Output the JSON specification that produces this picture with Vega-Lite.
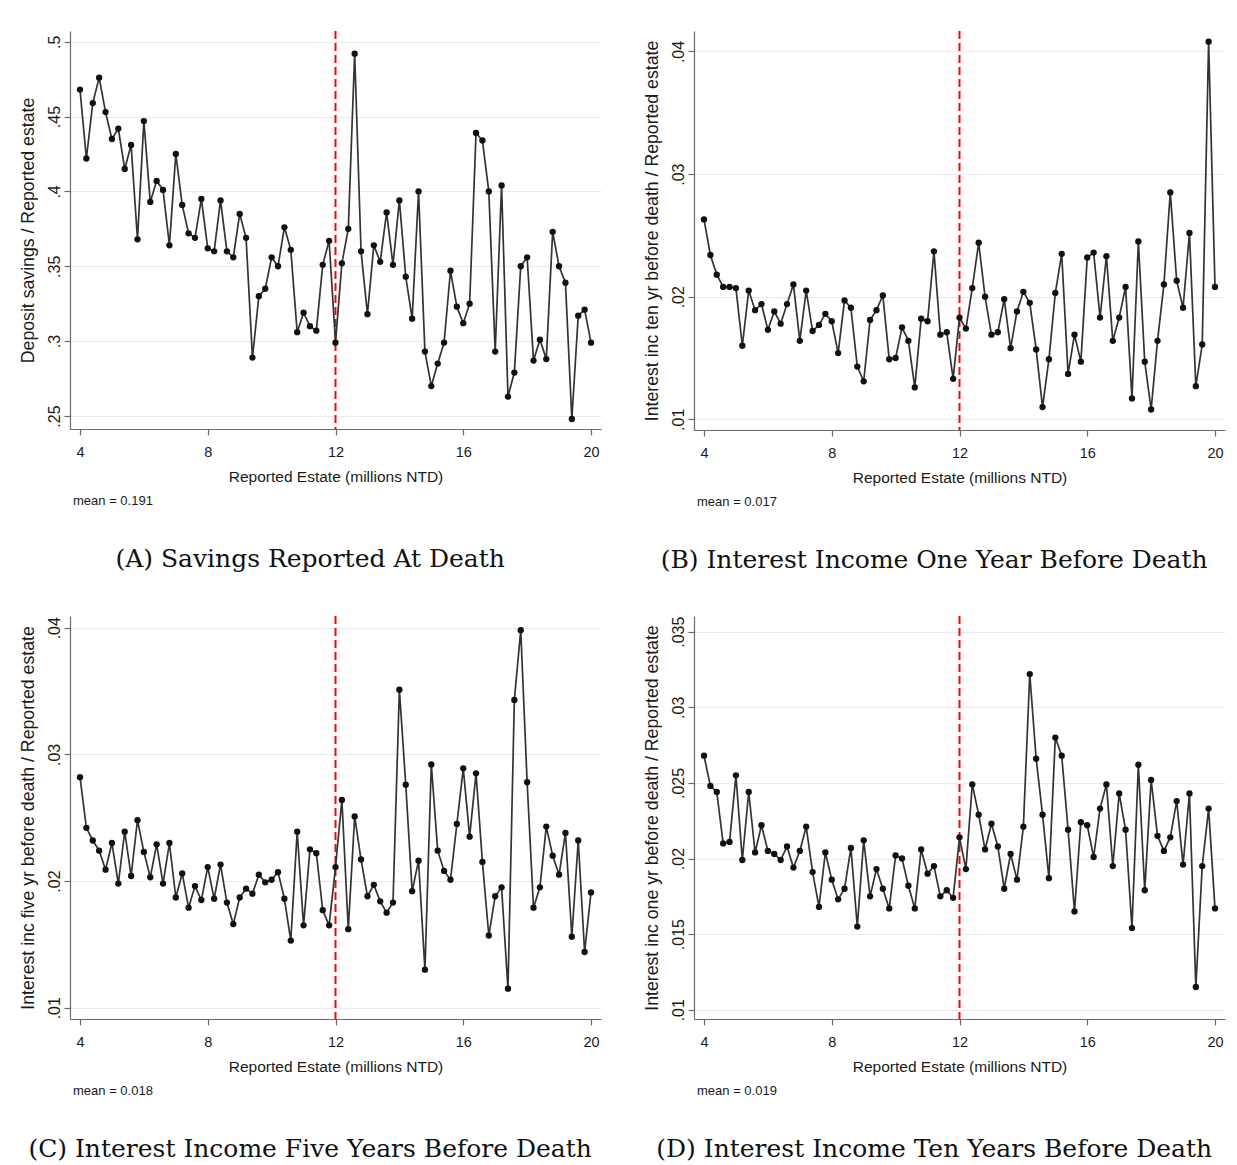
{
  "$schema": "https://vega.github.io/schema/vega-lite/v6.json",
  "background": "white",
  "autosize": {"type": "pad"},
  "padding": {"left": 19, "top": 30, "right": 4, "bottom": 0},
  "config": {
    "view": {"stroke": null},
    "axis": {
      "domainColor": "#6b6b6b", "domainWidth": 1.2,
      "tickColor": "#6b6b6b", "tickWidth": 1.2, "tickSize": 6,
      "labelColor": "#1a1a1a", "titleColor": "#1a1a1a", "titleFontWeight": "normal",
      "gridColor": "#e4ecef", "gridWidth": 1
    },
    "axisX": {
      "grid": false, "labelFont": "Liberation Sans", "labelFontSize": 14.5,
      "labelPadding": 10.3, "titleFont": "Liberation Sans", "titleFontSize": 15.5, "titlePadding": 10.2
    },
    "axisY": {
      "grid": true, "labelFont": "Liberation Sans", "labelFontSize": 16, "labelPadding": 2,
      "titleFont": "Liberation Sans", "titleFontSize": 17.7, "titlePadding": 8.7
    }
  },
  "datasets": {
    "savings": [
      {"estate":4,"ratio":0.468},{"estate":4.2,"ratio":0.422},{"estate":4.4,"ratio":0.459},{"estate":4.6,"ratio":0.476},{"estate":4.8,"ratio":0.453},
      {"estate":5,"ratio":0.435},{"estate":5.2,"ratio":0.442},{"estate":5.4,"ratio":0.415},{"estate":5.6,"ratio":0.431},{"estate":5.8,"ratio":0.368},
      {"estate":6,"ratio":0.447},{"estate":6.2,"ratio":0.393},{"estate":6.4,"ratio":0.407},{"estate":6.6,"ratio":0.401},{"estate":6.8,"ratio":0.364},
      {"estate":7,"ratio":0.425},{"estate":7.2,"ratio":0.391},{"estate":7.4,"ratio":0.372},{"estate":7.6,"ratio":0.369},{"estate":7.8,"ratio":0.395},
      {"estate":8,"ratio":0.362},{"estate":8.2,"ratio":0.360},{"estate":8.4,"ratio":0.394},{"estate":8.6,"ratio":0.360},{"estate":8.8,"ratio":0.356},
      {"estate":9,"ratio":0.385},{"estate":9.2,"ratio":0.369},{"estate":9.4,"ratio":0.289},{"estate":9.6,"ratio":0.330},{"estate":9.8,"ratio":0.335},
      {"estate":10,"ratio":0.356},{"estate":10.2,"ratio":0.350},{"estate":10.4,"ratio":0.376},{"estate":10.6,"ratio":0.361},{"estate":10.8,"ratio":0.306},
      {"estate":11,"ratio":0.319},{"estate":11.2,"ratio":0.310},{"estate":11.4,"ratio":0.307},{"estate":11.6,"ratio":0.351},{"estate":11.8,"ratio":0.367},
      {"estate":12,"ratio":0.299},{"estate":12.2,"ratio":0.352},{"estate":12.4,"ratio":0.375},{"estate":12.6,"ratio":0.492},{"estate":12.8,"ratio":0.360},
      {"estate":13,"ratio":0.318},{"estate":13.2,"ratio":0.364},{"estate":13.4,"ratio":0.353},{"estate":13.6,"ratio":0.386},{"estate":13.8,"ratio":0.351},
      {"estate":14,"ratio":0.394},{"estate":14.2,"ratio":0.343},{"estate":14.4,"ratio":0.315},{"estate":14.6,"ratio":0.400},{"estate":14.8,"ratio":0.293},
      {"estate":15,"ratio":0.270},{"estate":15.2,"ratio":0.285},{"estate":15.4,"ratio":0.299},{"estate":15.6,"ratio":0.347},{"estate":15.8,"ratio":0.323},
      {"estate":16,"ratio":0.312},{"estate":16.2,"ratio":0.325},{"estate":16.4,"ratio":0.439},{"estate":16.6,"ratio":0.434},{"estate":16.8,"ratio":0.400},
      {"estate":17,"ratio":0.293},{"estate":17.2,"ratio":0.404},{"estate":17.4,"ratio":0.263},{"estate":17.6,"ratio":0.279},{"estate":17.8,"ratio":0.350},
      {"estate":18,"ratio":0.356},{"estate":18.2,"ratio":0.287},{"estate":18.4,"ratio":0.301},{"estate":18.6,"ratio":0.288},{"estate":18.8,"ratio":0.373},
      {"estate":19,"ratio":0.350},{"estate":19.2,"ratio":0.339},{"estate":19.4,"ratio":0.248},{"estate":19.6,"ratio":0.317},{"estate":19.8,"ratio":0.321},
      {"estate":20,"ratio":0.299}
    ],
    "interest_one_year": [
      {"estate":4,"ratio":0.0263},{"estate":4.2,"ratio":0.0234},{"estate":4.4,"ratio":0.0218},{"estate":4.6,"ratio":0.0208},{"estate":4.8,"ratio":0.0208},
      {"estate":5,"ratio":0.0207},{"estate":5.2,"ratio":0.0160},{"estate":5.4,"ratio":0.0205},{"estate":5.6,"ratio":0.0189},{"estate":5.8,"ratio":0.0194},
      {"estate":6,"ratio":0.0173},{"estate":6.2,"ratio":0.0188},{"estate":6.4,"ratio":0.0178},{"estate":6.6,"ratio":0.0194},{"estate":6.8,"ratio":0.0210},
      {"estate":7,"ratio":0.0164},{"estate":7.2,"ratio":0.0205},{"estate":7.4,"ratio":0.0172},{"estate":7.6,"ratio":0.0177},{"estate":7.8,"ratio":0.0186},
      {"estate":8,"ratio":0.0180},{"estate":8.2,"ratio":0.0154},{"estate":8.4,"ratio":0.0197},{"estate":8.6,"ratio":0.0191},{"estate":8.8,"ratio":0.0143},
      {"estate":9,"ratio":0.0131},{"estate":9.2,"ratio":0.0181},{"estate":9.4,"ratio":0.0189},{"estate":9.6,"ratio":0.0201},{"estate":9.8,"ratio":0.0149},
      {"estate":10,"ratio":0.0150},{"estate":10.2,"ratio":0.0175},{"estate":10.4,"ratio":0.0164},{"estate":10.6,"ratio":0.0126},{"estate":10.8,"ratio":0.0182},
      {"estate":11,"ratio":0.0180},{"estate":11.2,"ratio":0.0237},{"estate":11.4,"ratio":0.0169},{"estate":11.6,"ratio":0.0171},{"estate":11.8,"ratio":0.0133},
      {"estate":12,"ratio":0.0183},{"estate":12.2,"ratio":0.0174},{"estate":12.4,"ratio":0.0207},{"estate":12.6,"ratio":0.0244},{"estate":12.8,"ratio":0.0200},
      {"estate":13,"ratio":0.0169},{"estate":13.2,"ratio":0.0171},{"estate":13.4,"ratio":0.0198},{"estate":13.6,"ratio":0.0158},{"estate":13.8,"ratio":0.0188},
      {"estate":14,"ratio":0.0204},{"estate":14.2,"ratio":0.0195},{"estate":14.4,"ratio":0.0157},{"estate":14.6,"ratio":0.0110},{"estate":14.8,"ratio":0.0149},
      {"estate":15,"ratio":0.0203},{"estate":15.2,"ratio":0.0235},{"estate":15.4,"ratio":0.0137},{"estate":15.6,"ratio":0.0169},{"estate":15.8,"ratio":0.0147},
      {"estate":16,"ratio":0.0232},{"estate":16.2,"ratio":0.0236},{"estate":16.4,"ratio":0.0183},{"estate":16.6,"ratio":0.0233},{"estate":16.8,"ratio":0.0164},
      {"estate":17,"ratio":0.0183},{"estate":17.2,"ratio":0.0208},{"estate":17.4,"ratio":0.0117},{"estate":17.6,"ratio":0.0245},{"estate":17.8,"ratio":0.0147},
      {"estate":18,"ratio":0.0108},{"estate":18.2,"ratio":0.0164},{"estate":18.4,"ratio":0.0210},{"estate":18.6,"ratio":0.0285},{"estate":18.8,"ratio":0.0213},
      {"estate":19,"ratio":0.0191},{"estate":19.2,"ratio":0.0252},{"estate":19.4,"ratio":0.0127},{"estate":19.6,"ratio":0.0161},{"estate":19.8,"ratio":0.0408},
      {"estate":20,"ratio":0.0208}
    ],
    "interest_five_years": [
      {"estate":4,"ratio":0.0282},{"estate":4.2,"ratio":0.0242},{"estate":4.4,"ratio":0.0232},{"estate":4.6,"ratio":0.0224},{"estate":4.8,"ratio":0.0209},
      {"estate":5,"ratio":0.0230},{"estate":5.2,"ratio":0.0198},{"estate":5.4,"ratio":0.0239},{"estate":5.6,"ratio":0.0204},{"estate":5.8,"ratio":0.0248},
      {"estate":6,"ratio":0.0223},{"estate":6.2,"ratio":0.0203},{"estate":6.4,"ratio":0.0229},{"estate":6.6,"ratio":0.0198},{"estate":6.8,"ratio":0.0230},
      {"estate":7,"ratio":0.0187},{"estate":7.2,"ratio":0.0206},{"estate":7.4,"ratio":0.0179},{"estate":7.6,"ratio":0.0196},{"estate":7.8,"ratio":0.0185},
      {"estate":8,"ratio":0.0211},{"estate":8.2,"ratio":0.0186},{"estate":8.4,"ratio":0.0213},{"estate":8.6,"ratio":0.0183},{"estate":8.8,"ratio":0.0166},
      {"estate":9,"ratio":0.0187},{"estate":9.2,"ratio":0.0194},{"estate":9.4,"ratio":0.0190},{"estate":9.6,"ratio":0.0205},{"estate":9.8,"ratio":0.0199},
      {"estate":10,"ratio":0.0201},{"estate":10.2,"ratio":0.0207},{"estate":10.4,"ratio":0.0186},{"estate":10.6,"ratio":0.0153},{"estate":10.8,"ratio":0.0239},
      {"estate":11,"ratio":0.0165},{"estate":11.2,"ratio":0.0225},{"estate":11.4,"ratio":0.0222},{"estate":11.6,"ratio":0.0177},{"estate":11.8,"ratio":0.0165},
      {"estate":12,"ratio":0.0211},{"estate":12.2,"ratio":0.0264},{"estate":12.4,"ratio":0.0162},{"estate":12.6,"ratio":0.0251},{"estate":12.8,"ratio":0.0217},
      {"estate":13,"ratio":0.0188},{"estate":13.2,"ratio":0.0197},{"estate":13.4,"ratio":0.0184},{"estate":13.6,"ratio":0.0175},{"estate":13.8,"ratio":0.0183},
      {"estate":14,"ratio":0.0351},{"estate":14.2,"ratio":0.0276},{"estate":14.4,"ratio":0.0192},{"estate":14.6,"ratio":0.0216},{"estate":14.8,"ratio":0.0130},
      {"estate":15,"ratio":0.0292},{"estate":15.2,"ratio":0.0224},{"estate":15.4,"ratio":0.0208},{"estate":15.6,"ratio":0.0201},{"estate":15.8,"ratio":0.0245},
      {"estate":16,"ratio":0.0289},{"estate":16.2,"ratio":0.0235},{"estate":16.4,"ratio":0.0285},{"estate":16.6,"ratio":0.0215},{"estate":16.8,"ratio":0.0157},
      {"estate":17,"ratio":0.0188},{"estate":17.2,"ratio":0.0195},{"estate":17.4,"ratio":0.0115},{"estate":17.6,"ratio":0.0343},{"estate":17.8,"ratio":0.0398},
      {"estate":18,"ratio":0.0278},{"estate":18.2,"ratio":0.0179},{"estate":18.4,"ratio":0.0195},{"estate":18.6,"ratio":0.0243},{"estate":18.8,"ratio":0.0220},
      {"estate":19,"ratio":0.0205},{"estate":19.2,"ratio":0.0238},{"estate":19.4,"ratio":0.0156},{"estate":19.6,"ratio":0.0232},{"estate":19.8,"ratio":0.0144},
      {"estate":20,"ratio":0.0191}
    ],
    "interest_ten_years": [
      {"estate":4,"ratio":0.0268},{"estate":4.2,"ratio":0.0248},{"estate":4.4,"ratio":0.0244},{"estate":4.6,"ratio":0.0210},{"estate":4.8,"ratio":0.0211},
      {"estate":5,"ratio":0.0255},{"estate":5.2,"ratio":0.0199},{"estate":5.4,"ratio":0.0244},{"estate":5.6,"ratio":0.0204},{"estate":5.8,"ratio":0.0222},
      {"estate":6,"ratio":0.0205},{"estate":6.2,"ratio":0.0203},{"estate":6.4,"ratio":0.0199},{"estate":6.6,"ratio":0.0208},{"estate":6.8,"ratio":0.0194},
      {"estate":7,"ratio":0.0205},{"estate":7.2,"ratio":0.0221},{"estate":7.4,"ratio":0.0191},{"estate":7.6,"ratio":0.0168},{"estate":7.8,"ratio":0.0204},
      {"estate":8,"ratio":0.0186},{"estate":8.2,"ratio":0.0173},{"estate":8.4,"ratio":0.0180},{"estate":8.6,"ratio":0.0207},{"estate":8.8,"ratio":0.0155},
      {"estate":9,"ratio":0.0212},{"estate":9.2,"ratio":0.0175},{"estate":9.4,"ratio":0.0193},{"estate":9.6,"ratio":0.0180},{"estate":9.8,"ratio":0.0167},
      {"estate":10,"ratio":0.0202},{"estate":10.2,"ratio":0.0200},{"estate":10.4,"ratio":0.0182},{"estate":10.6,"ratio":0.0167},{"estate":10.8,"ratio":0.0206},
      {"estate":11,"ratio":0.0190},{"estate":11.2,"ratio":0.0195},{"estate":11.4,"ratio":0.0175},{"estate":11.6,"ratio":0.0179},{"estate":11.8,"ratio":0.0174},
      {"estate":12,"ratio":0.0214},{"estate":12.2,"ratio":0.0193},{"estate":12.4,"ratio":0.0249},{"estate":12.6,"ratio":0.0229},{"estate":12.8,"ratio":0.0206},
      {"estate":13,"ratio":0.0223},{"estate":13.2,"ratio":0.0208},{"estate":13.4,"ratio":0.0180},{"estate":13.6,"ratio":0.0203},{"estate":13.8,"ratio":0.0186},
      {"estate":14,"ratio":0.0221},{"estate":14.2,"ratio":0.0322},{"estate":14.4,"ratio":0.0266},{"estate":14.6,"ratio":0.0229},{"estate":14.8,"ratio":0.0187},
      {"estate":15,"ratio":0.0280},{"estate":15.2,"ratio":0.0268},{"estate":15.4,"ratio":0.0219},{"estate":15.6,"ratio":0.0165},{"estate":15.8,"ratio":0.0224},
      {"estate":16,"ratio":0.0222},{"estate":16.2,"ratio":0.0201},{"estate":16.4,"ratio":0.0233},{"estate":16.6,"ratio":0.0249},{"estate":16.8,"ratio":0.0195},
      {"estate":17,"ratio":0.0243},{"estate":17.2,"ratio":0.0219},{"estate":17.4,"ratio":0.0154},{"estate":17.6,"ratio":0.0262},{"estate":17.8,"ratio":0.0179},
      {"estate":18,"ratio":0.0252},{"estate":18.2,"ratio":0.0215},{"estate":18.4,"ratio":0.0205},{"estate":18.6,"ratio":0.0214},{"estate":18.8,"ratio":0.0238},
      {"estate":19,"ratio":0.0196},{"estate":19.2,"ratio":0.0243},{"estate":19.4,"ratio":0.0115},{"estate":19.6,"ratio":0.0195},{"estate":19.8,"ratio":0.0233},
      {"estate":20,"ratio":0.0167}
    ]
  },
  "spacing": 42,
  "vconcat": [
    {
      "spacing": 42,
      "hconcat": [
        {
          "title": {"text": "(A) Savings Reported At Death", "orient": "bottom", "anchor": "middle", "font": "DejaVu Serif", "fontSize": 25, "fontWeight": "normal", "color": "#111111", "offset": 39.3},
          "vconcat": [
            {
              "width": 531, "height": 398,
              "title": {"text": "mean = 0.191", "orient": "bottom", "anchor": "start", "frame": "group", "font": "Liberation Sans", "fontSize": 13, "fontWeight": "normal", "color": "#1a1a1a", "offset": 10.2, "dx": 3},
              "data": {"name": "savings"},
              "layer": [
                {
                  "data": {"values": [{"estate": 12}]},
                  "mark": {"type": "rule", "color": "#ff0000", "strokeDash": [8, 4], "strokeWidth": 2},
                  "encoding": {"x": {"field": "estate", "type": "quantitative", "title": "Reported Estate (millions NTD)"}}
                },
                {
                  "mark": {"type": "line", "color": "#333333", "strokeWidth": 1.7, "point": {"filled": true, "color": "#111111", "size": 40, "opacity": 1}},
                  "encoding": {
                    "x": {"field": "estate", "type": "quantitative", "title": "Reported Estate (millions NTD)",
                          "scale": {"domain": [3.687, 20.313], "nice": false, "zero": false},
                          "axis": {"values": [4, 8, 12, 16, 20]}},
                    "y": {"field": "ratio", "type": "quantitative", "title": "Deposit savings / Reported estate",
                          "scale": {"domain": [0.24132, 0.50715], "nice": false, "zero": false},
                          "axis": {"values": [0.25, 0.3, 0.35, 0.4, 0.45, 0.5], "labelAngle": -90, "labelAlign": "center", "labelBaseline": "bottom",
                                   "labelExpr": "replace(format(datum.value, '.3~f'), '0.', '.')"}}
                  }
                }
              ]
            }
          ]
        },
        {
          "title": {"text": "(B) Interest Income One Year Before Death", "orient": "bottom", "anchor": "middle", "font": "DejaVu Serif", "fontSize": 25, "fontWeight": "normal", "color": "#111111", "offset": 38.8},
          "vconcat": [
            {
              "width": 531, "height": 399,
              "title": {"text": "mean = 0.017", "orient": "bottom", "anchor": "start", "frame": "group", "font": "Liberation Sans", "fontSize": 13, "fontWeight": "normal", "color": "#1a1a1a", "offset": 10.2, "dx": 3},
              "data": {"name": "interest_one_year"},
              "layer": [
                {
                  "data": {"values": [{"estate": 12}]},
                  "mark": {"type": "rule", "color": "#ff0000", "strokeDash": [8, 4], "strokeWidth": 2},
                  "encoding": {"x": {"field": "estate", "type": "quantitative", "title": "Reported Estate (millions NTD)"}}
                },
                {
                  "mark": {"type": "line", "color": "#333333", "strokeWidth": 1.7, "point": {"filled": true, "color": "#111111", "size": 40, "opacity": 1}},
                  "encoding": {
                    "x": {"field": "estate", "type": "quantitative", "title": "Reported Estate (millions NTD)",
                          "scale": {"domain": [3.687, 20.313], "nice": false, "zero": false},
                          "axis": {"values": [4, 8, 12, 16, 20]}},
                    "y": {"field": "ratio", "type": "quantitative", "title": "Interest inc ten yr before death / Reported estate",
                          "scale": {"domain": [0.009127, 0.041672], "nice": false, "zero": false},
                          "axis": {"values": [0.01, 0.02, 0.03, 0.04], "labelAngle": -90, "labelAlign": "center", "labelBaseline": "bottom",
                                   "labelExpr": "replace(format(datum.value, '.3~f'), '0.', '.')"}}
                  }
                }
              ]
            }
          ]
        }
      ]
    },
    {
      "spacing": 42,
      "hconcat": [
        {
          "title": {"text": "(C) Interest Income Five Years Before Death", "orient": "bottom", "anchor": "middle", "font": "DejaVu Serif", "fontSize": 25, "fontWeight": "normal", "color": "#111111", "offset": 39.3},
          "vconcat": [
            {
              "width": 531, "height": 403,
              "title": {"text": "mean = 0.018", "orient": "bottom", "anchor": "start", "frame": "group", "font": "Liberation Sans", "fontSize": 13, "fontWeight": "normal", "color": "#1a1a1a", "offset": 10.2, "dx": 3},
              "data": {"name": "interest_five_years"},
              "layer": [
                {
                  "data": {"values": [{"estate": 12}]},
                  "mark": {"type": "rule", "color": "#ff0000", "strokeDash": [8, 4], "strokeWidth": 2},
                  "encoding": {"x": {"field": "estate", "type": "quantitative", "title": "Reported Estate (millions NTD)"}}
                },
                {
                  "mark": {"type": "line", "color": "#333333", "strokeWidth": 1.7, "point": {"filled": true, "color": "#111111", "size": 40, "opacity": 1}},
                  "encoding": {
                    "x": {"field": "estate", "type": "quantitative", "title": "Reported Estate (millions NTD)",
                          "scale": {"domain": [3.687, 20.313], "nice": false, "zero": false},
                          "axis": {"values": [4, 8, 12, 16, 20]}},
                    "y": {"field": "ratio", "type": "quantitative", "title": "Interest inc five yr before death / Reported estate",
                          "scale": {"domain": [0.009108, 0.040924], "nice": false, "zero": false},
                          "axis": {"values": [0.01, 0.02, 0.03, 0.04], "labelAngle": -90, "labelAlign": "center", "labelBaseline": "bottom",
                                   "labelExpr": "replace(format(datum.value, '.3~f'), '0.', '.')"}}
                  }
                }
              ]
            }
          ]
        },
        {
          "title": {"text": "(D) Interest Income Ten Years Before Death", "orient": "bottom", "anchor": "middle", "font": "DejaVu Serif", "fontSize": 25, "fontWeight": "normal", "color": "#111111", "offset": 39.3},
          "vconcat": [
            {
              "width": 531, "height": 403,
              "title": {"text": "mean = 0.019", "orient": "bottom", "anchor": "start", "frame": "group", "font": "Liberation Sans", "fontSize": 13, "fontWeight": "normal", "color": "#1a1a1a", "offset": 10.2, "dx": 3},
              "data": {"name": "interest_ten_years"},
              "layer": [
                {
                  "data": {"values": [{"estate": 12}]},
                  "mark": {"type": "rule", "color": "#ff0000", "strokeDash": [8, 4], "strokeWidth": 2},
                  "encoding": {"x": {"field": "estate", "type": "quantitative", "title": "Reported Estate (millions NTD)"}}
                },
                {
                  "mark": {"type": "line", "color": "#333333", "strokeWidth": 1.7, "point": {"filled": true, "color": "#111111", "size": 40, "opacity": 1}},
                  "encoding": {
                    "x": {"field": "estate", "type": "quantitative", "title": "Reported Estate (millions NTD)",
                          "scale": {"domain": [3.687, 20.313], "nice": false, "zero": false},
                          "axis": {"values": [4, 8, 12, 16, 20]}},
                    "y": {"field": "ratio", "type": "quantitative", "title": "Interest inc one yr before death / Reported estate",
                          "scale": {"domain": [0.009385, 0.03604], "nice": false, "zero": false},
                          "axis": {"values": [0.01, 0.015, 0.02, 0.025, 0.03, 0.035], "labelAngle": -90, "labelAlign": "center", "labelBaseline": "bottom",
                                   "labelExpr": "replace(format(datum.value, '.3~f'), '0.', '.')"}}
                  }
                }
              ]
            }
          ]
        }
      ]
    }
  ]
}
